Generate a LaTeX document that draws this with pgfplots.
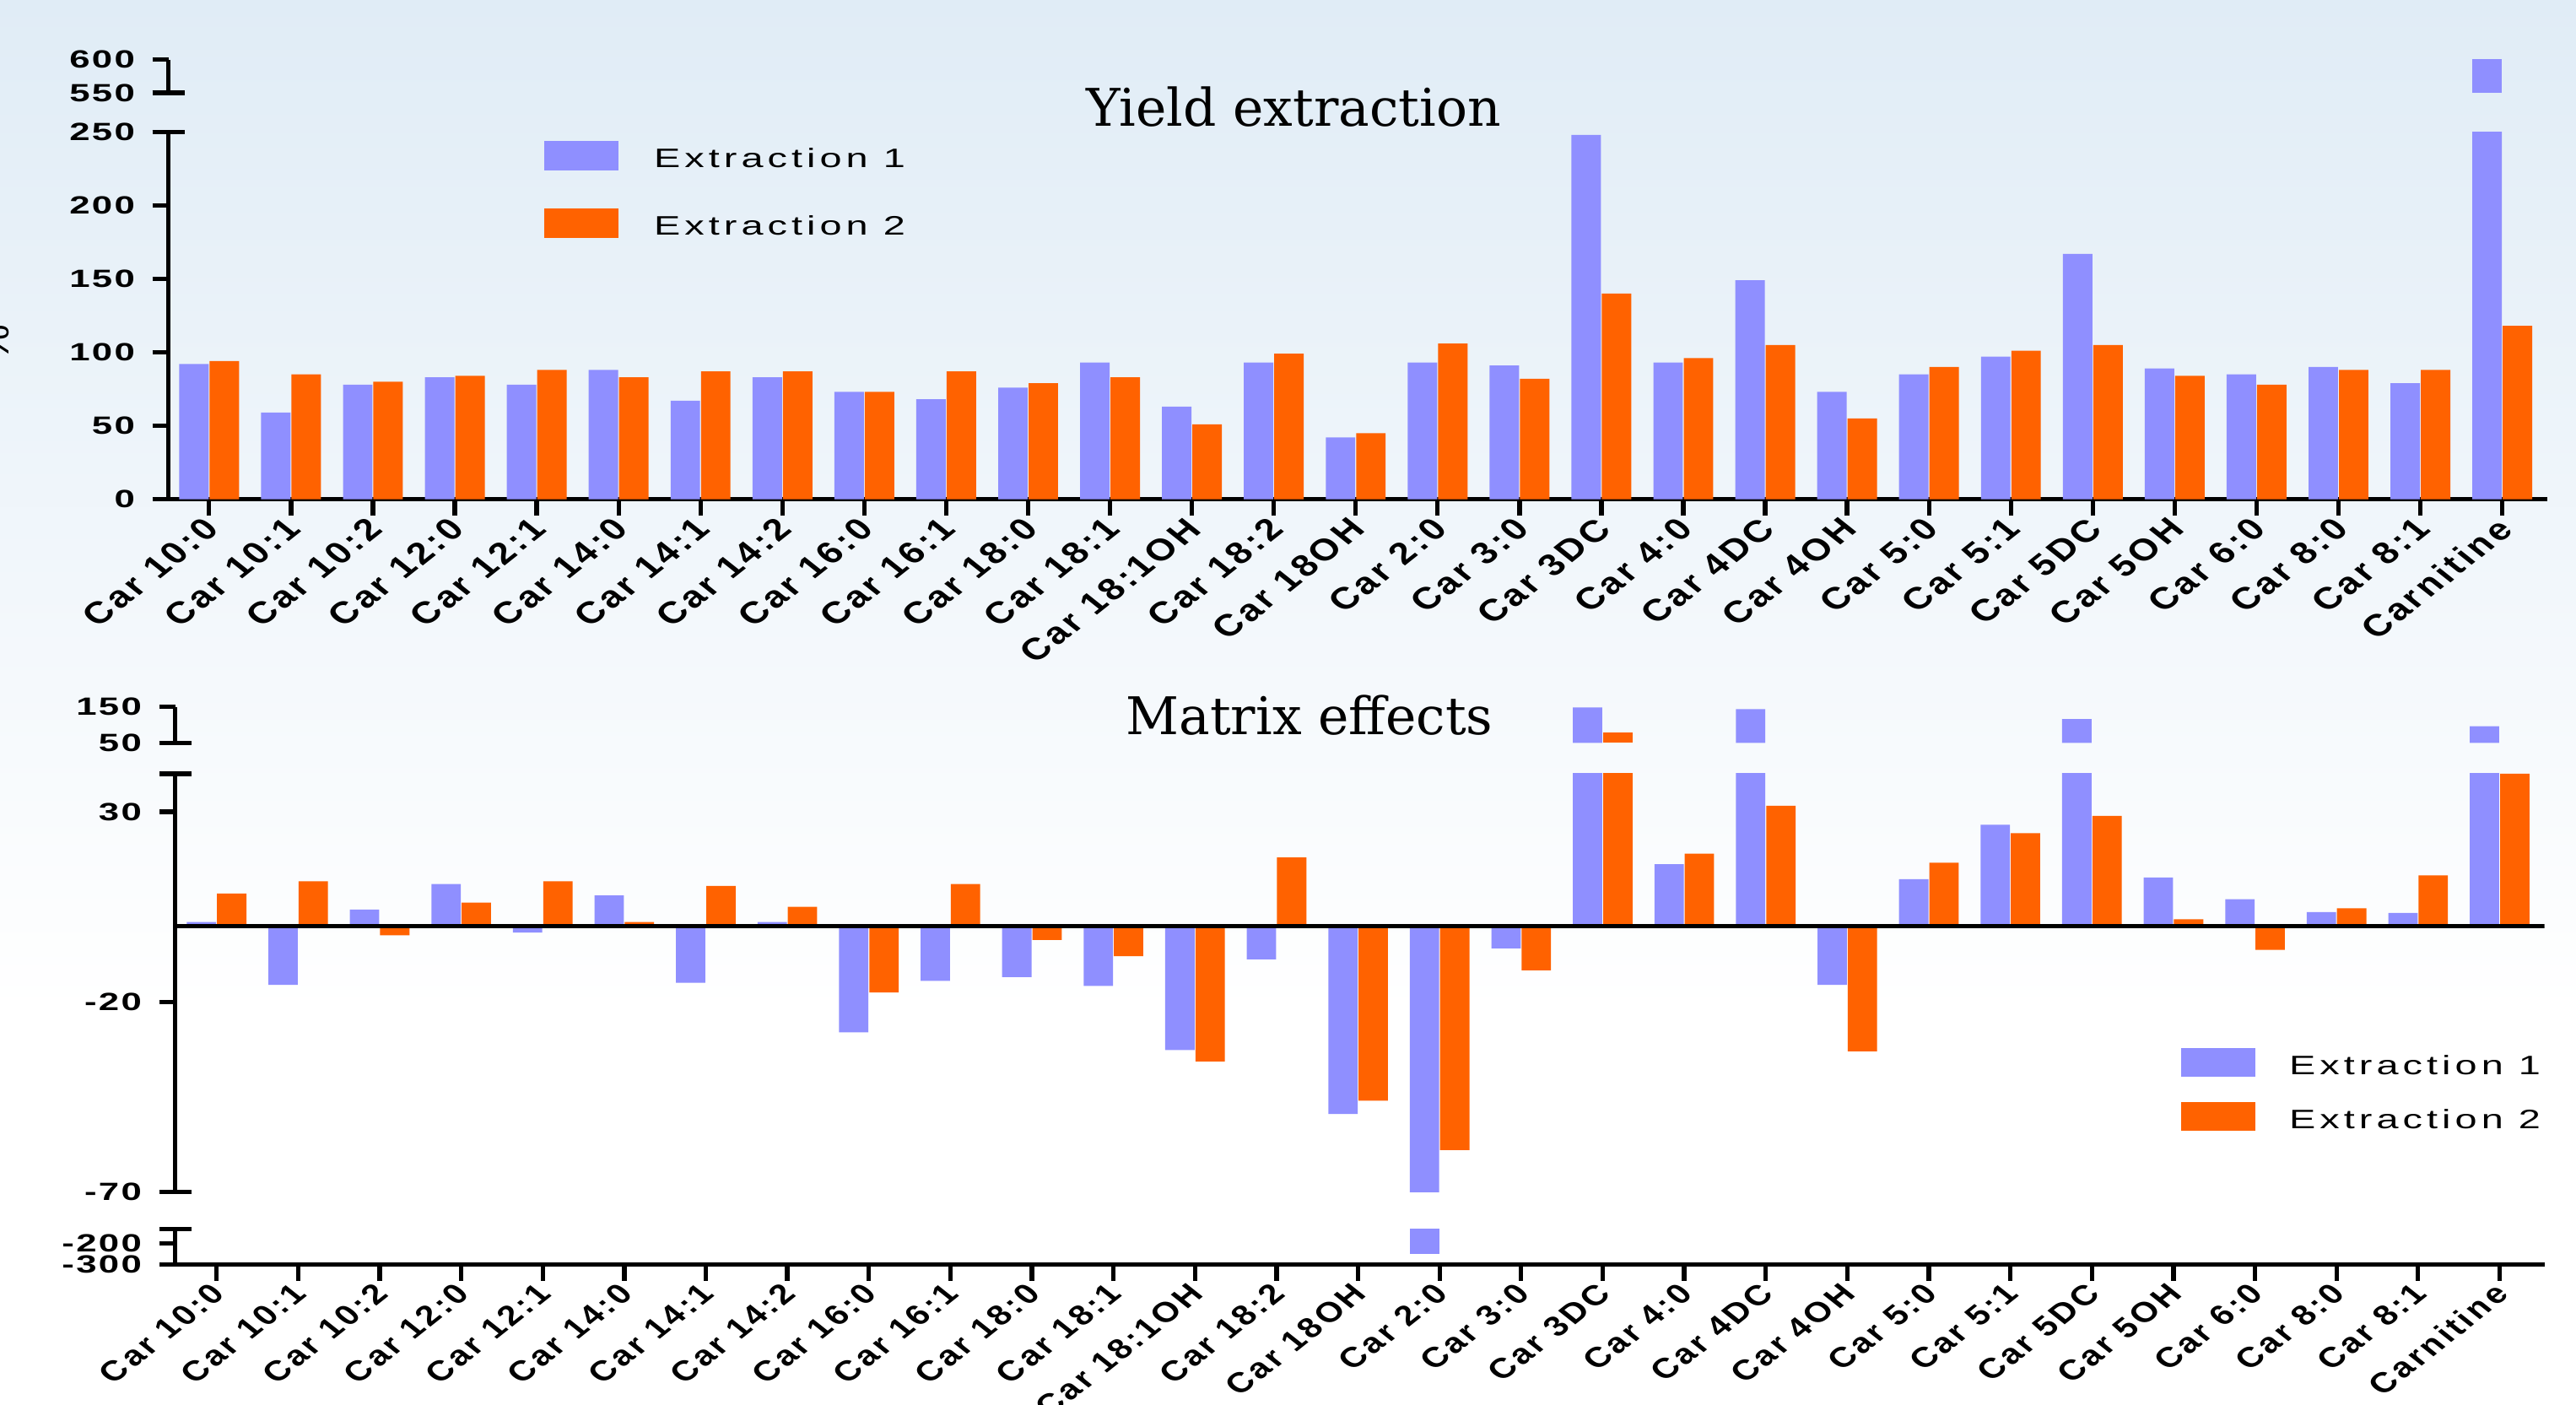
\documentclass[border=0pt]{standalone}
\usepackage{fontspec}
\usepackage{pgfplots}
\usepackage{pgfplotstable}
\pgfplotsset{compat=1.18}
\setmainfont{Liberation Sans}
\newfontfamily\titlefam{DejaVu Serif}
\newfontfamily\yfontfam[FakeStretch=1.48, LetterSpace=8]{Liberation Sans}
\newfontfamily\xfontfam[LetterSpace=9]{Liberation Sans}
\newfontfamily\legfontfam[FakeStretch=1.48, LetterSpace=16]{Liberation Sans}
\newcommand\yfont{\yfontfam\bfseries\fontsize{8.4}{10}\selectfont}
\newcommand\xfont{\xfontfam\bfseries\fontsize{10.3}{12}\selectfont}
\newcommand\xfontb{\xfontfam\bfseries\fontsize{9.5}{11}\selectfont}
\newcommand\legfont{\legfontfam\fontsize{9}{11}\selectfont}
\newcommand\titlefont{\titlefam\fontsize{17.5}{20}\selectfont}
\definecolor{ext1}{RGB}{143,143,255}
\definecolor{ext2}{RGB}{255,98,0}
\definecolor{bgtop}{RGB}{224,236,246}

\pgfplotstableread{
x e1 e2
0 92 94
1 59 85
2 78 80
3 83 84
4 78 88
5 88 83
6 67 87
7 83 87
8 73 73
9 68 87
10 76 79
11 93 83
12 63 51
13 93 99
14 42 45
15 93 106
16 91 82
17 248 140
18 93 96
19 149 105
20 73 55
21 85 90
22 97 101
23 167 105
24 89 84
25 85 78
26 90 88
27 79 88
28 603 118
}\yieldtab

\pgfplotstableread{
x e1 e2
0 1 8.5
1 -15.5 11.7
2 4.3 -2.5
3 11 6.1
4 -1.75 11.7
5 8 1
6 -15 10.5
7 1 5
8 -28 -17.5
9 -14.5 11
10 -13.5 -3.7
11 -15.8 -8
12 -32.7 -35.7
13 -8.8 18
14 -49.5 -46
15 -250 -59
16 -5.9 -11.7
17 148 79
18 16.2 19
19 143 31.6
20 -15.5 -33
21 12.3 16.6
22 26.6 24.4
23 116 28.9
24 12.7 1.75
25 7 -6.3
26 3.6 4.6
27 3.4 13.3
28 96 40
}\matrixtab

\pgfplotsset{
  seg/.style={
    scale only axis,
    ybar=0.3pt, bar width=0.36,
    axis y line*=left,
    axis line style={-, line width=1.5pt, black},
    tick align=outside,
    major tick length=0.19cm,
    tick style={black, line width=1.5pt},
    yticklabel style={font=\yfont, anchor=east, inner sep=0pt, xshift=-0.2cm},
    xticklabel style={font=\xfont, anchor=north east, inner sep=0pt, xshift=-0.09cm, xscale=1.26, rotate=45},
  },
  noxaxis/.style={axis x line=none, xtick=\empty},
  withxaxis/.style={
    axis x line*=bottom,
    xtick={0,...,28},
    xticklabels={Car 10:0,Car 10:1,Car 10:2,Car 12:0,Car 12:1,Car 14:0,Car 14:1,Car 14:2,Car 16:0,Car 16:1,Car 18:0,Car 18:1,Car 18:1OH,Car 18:2,Car 18OH,Car 2:0,Car 3:0,Car 3DC,Car 4:0,Car 4DC,Car 4OH,Car 5:0,Car 5:1,Car 5DC,Car 5OH,Car 6:0,Car 8:0,Car 8:1,Carnitine},
  },
  topx/.style={xmin=-0.497, xmax=28.55, width=28.194cm},
  botx/.style={xmin=-0.508, xmax=28.55, width=28.08cm},
  legimg/.style={legend image code/.code={\fill[##1,draw=none] (0cm,-0.12cm) rectangle (0.88cm,0.224cm);}},
}

\begin{document}
\begin{tikzpicture}
\useasboundingbox (0,0) rectangle (30.53cm,16.64cm);
\clip (0,0) rectangle (30.53cm,16.64cm);
\fill[white] (0,0) rectangle (30.53cm,16.64cm);
\shade[top color=bgtop, bottom color=white] (0,4.64cm) rectangle (30.53cm,16.64cm);

\node[rotate=90, font=\fontsize{14}{16}\selectfont] at (-0.06cm,12.57cm) {\%};

% ---------- Yield extraction ----------
\begin{axis}[seg, topx, withxaxis, name=tmain,
  at={(1.996cm,10.724cm)}, anchor=south west, height=4.353cm,
  ymin=0, ymax=250, ytick={0,50,100,150,200,250}, yticklabels={0,50,100,150,200,250},
  legimg,
  legend style={at={(0.158,0.9747)}, anchor=north west, draw=none, fill=none,
    inner sep=0pt, outer sep=0pt, font=\legfont, row sep=0.435cm, column sep=0.42cm,
    nodes={inner sep=0pt}},
  legend cell align=left]
\addplot[fill=ext1, draw=none] table[x=x,y=e1]{\yieldtab};
\addplot[fill=ext2, draw=none] table[x=x,y=e2]{\yieldtab};
\legend{Extraction 1, Extraction 2}
\end{axis}
\begin{axis}[seg, topx, noxaxis, name=tup,
  at={(1.996cm,15.541cm)}, anchor=south west, height=0.394cm,
  ymin=550, ymax=600, ytick={550,600}, yticklabels={550,600},
  restrict y to domain=550:100000]
\addplot[fill=ext1, draw=none] table[x=x,y=e1]{\yieldtab};
\addplot[fill=ext2, draw=none] table[x=x,y=e2]{\yieldtab};
\end{axis}
\draw[line width=1.5pt] ([xshift=-0.19cm]tmain.north west) -- ([xshift=0.19cm]tmain.north west);
\draw[line width=1.5pt] ([xshift=-0.19cm]tup.south west) -- ([xshift=0.19cm]tup.south west);
\node[font=\titlefont, anchor=base] at (15.33cm,15.14cm) {Yield extraction};

% ---------- Matrix effects ----------
\begin{axis}[seg, botx, noxaxis, name=bup,
  at={(2.076cm,7.837cm)}, anchor=south west, height=0.428cm,
  ymin=50, ymax=150, ytick={50,150}, yticklabels={50,150},
  restrict y to domain=50:100000]
\addplot[fill=ext1, draw=none] table[x=x,y=e1]{\matrixtab};
\addplot[fill=ext2, draw=none] table[x=x,y=e2]{\matrixtab};
\end{axis}
\begin{axis}[seg, botx, noxaxis, name=bmain,
  at={(2.076cm,2.515cm)}, anchor=south west, height=4.955cm,
  ymin=-70, ymax=40, ytick={-70,-20,30}, yticklabels={-70,-20,30},
  legimg,
  legend style={at={(0.8467,0.3441)}, anchor=north west, draw=none, fill=none,
    inner sep=0pt, outer sep=0pt, font=\legfont, row sep=0.275cm, column sep=0.40cm,
    nodes={inner sep=0pt}},
  legend cell align=left]
\addplot[fill=ext1, draw=none] table[x=x,y=e1]{\matrixtab};
\addplot[fill=ext2, draw=none] table[x=x,y=e2]{\matrixtab};
\draw[black, line width=1.4pt] (axis cs:-0.508,0) -- (axis cs:28.55,0);
\legend{Extraction 1, Extraction 2}
\end{axis}
\begin{axis}[seg, botx, withxaxis, name=blow,
  at={(2.076cm,1.653cm)}, anchor=south west, height=0.423cm,
  ymin=-300, ymax=-133, ytick={-300,-200}, yticklabels={-300,-200},
  xticklabel style={font=\xfontb},
  restrict y to domain=-100000:-133]
\addplot[fill=ext1, draw=none] table[x=x,y=e1]{\matrixtab};
\addplot[fill=ext2, draw=none] table[x=x,y=e2]{\matrixtab};
\end{axis}
\draw[line width=1.5pt] ([xshift=-0.19cm]bup.south west) -- ([xshift=0.19cm]bup.south west);
\draw[line width=1.5pt] ([xshift=-0.19cm]bmain.north west) -- ([xshift=0.19cm]bmain.north west);
\draw[line width=1.5pt] ([xshift=-0.19cm]bmain.south west) -- ([xshift=0.19cm]bmain.south west);
\draw[line width=1.5pt] ([xshift=-0.19cm]blow.north west) -- ([xshift=0.19cm]blow.north west);
\node[font=\titlefont, anchor=base] at (15.52cm,7.94cm) {Matrix effects};
\end{tikzpicture}
\end{document}
